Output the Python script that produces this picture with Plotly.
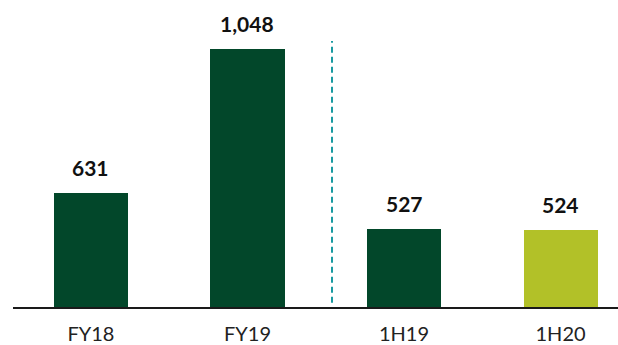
import plotly.graph_objects as go

# Periods and values (the value axis begins at 300, not at zero)
periods = ["FY18", "FY19", "1H19", "1H20"]
values = [631, 1048, 527, 524]
bar_colors = ["#02472A", "#02472A", "#02472A", "#B2C128"]
value_labels = ["631", "1,048", "527", "524"]

axis_floor = 300
axis_ceiling = 1160

fig = go.Figure()
fig.add_trace(go.Bar(
    x=periods,
    y=[v - axis_floor for v in values],
    base=axis_floor,
    marker=dict(color=bar_colors, line=dict(width=0)),
    width=0.473,
    hoverinfo="skip",
))

# Value labels above each bar
for p, v, lab in zip(periods, values, value_labels):
    fig.add_annotation(
        x=p, y=v, text=f"<b>{lab}</b>", showarrow=False,
        yanchor="bottom", yshift=11,
        font=dict(family="Lato", size=21, color="#111111"),
    )

# Dashed divider between full-year and half-year figures
fig.add_shape(
    type="line", xref="x", yref="y",
    x0=1.54, x1=1.54, y0=312, y1=1070,
    line=dict(color="#1A9AA1", width=2, dash="6px,4px"),
)

fig.update_layout(
    width=618, height=345,
    margin=dict(l=13, r=0, t=10, b=38, autoexpand=False),
    paper_bgcolor="white", plot_bgcolor="white",
    showlegend=False,
    bargap=0,
)
fig.update_xaxes(
    type="category", range=[-0.498, 3.367],
    showline=True, linecolor="#1a1a1a", linewidth=2,
    showgrid=False, ticks="", zeroline=False,
    automargin=False,
    tickfont=dict(family="Lato", size=20, color="#222222"),
    ticklabelstandoff=8,
)
fig.update_yaxes(
    range=[axis_floor, axis_ceiling], visible=False,
    showgrid=False, zeroline=False,
)

fig.write_html("out.html")
